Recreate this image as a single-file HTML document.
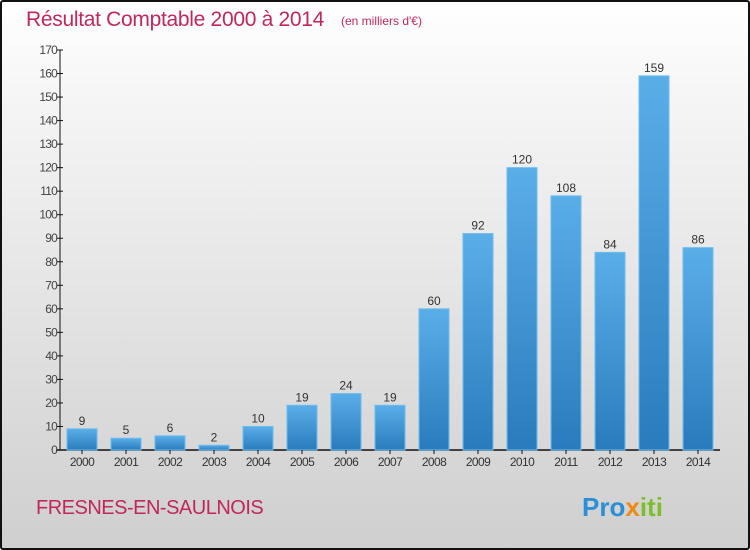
<!DOCTYPE html>
<html><head><meta charset="utf-8"><style>
html,body{margin:0;padding:0;}
body{width:750px;height:550px;overflow:hidden;font-family:"Liberation Sans",sans-serif;}
#frame{position:absolute;left:0;top:0;width:746px;height:546px;border:2px solid #111;border-radius:3px;background:linear-gradient(#ffffff,#f4f4f4 20%,#cfcfcf);}
</style></head><body>
<div id="frame"></div>
<svg id="chart" width="750" height="550" style="position:absolute;left:0;top:0">
<text x="26" y="26" font-size="21" fill="#c0285a" letter-spacing="-0.3">Résultat Comptable 2000 à 2014</text>
<text x="341" y="25" font-size="12" fill="#c0285a">(en milliers d'€)</text>
<text x="36" y="514" font-size="20" fill="#c0285a" letter-spacing="-0.5">FRESNES-EN-SAULNOIS</text>
<text x="582" y="516" font-size="26" font-weight="bold"><tspan fill="#2a8fd6">Pro</tspan><tspan fill="#f08a10">x</tspan><tspan fill="#7cbf2a">iti</tspan></text>
<g id="plot"></g>
</svg>
<script>
const categories=["2000","2001","2002","2003","2004","2005","2006","2007","2008","2009","2010","2011","2012","2013","2014"];
const values=[9,5,6,2,10,19,24,19,60,92,120,108,84,159,86];
const yTicks=[0,10,20,30,40,50,60,70,80,90,100,110,120,130,140,150,160,170];
const NS="http://www.w3.org/2000/svg";
const g=document.getElementById('plot');
const x0=60,y0=450,yMax=170,ph=400,step=44,bw=30,first=82;
const y=v=>y0-v/yMax*ph;
const xc=i=>first+i*step;
function mk(t,a){const e=document.createElementNS(NS,t);for(const k in a)e.setAttribute(k,a[k]);g.appendChild(e);return e;}
const defs=mk('defs',{});
defs.innerHTML='<linearGradient id="bg" x1="0" y1="0" x2="0" y2="1"><stop offset="0" stop-color="#5aaee8"/><stop offset="1" stop-color="#2a7bbd"/></linearGradient>';
let ax=mk('line',{x1:x0,y1:y(yMax),x2:x0,y2:y0,stroke:'#111','stroke-width':1});


let xa=mk('line',{x1:x0-4,y1:y0,x2:720,y2:y0,stroke:'#111','stroke-width':1.5});


yTicks.forEach(t=>{
 const tk=mk('line',{x1:x0-3,y1:y(t),x2:x0+3,y2:y(t),stroke:'#111'});
 
 
 const l=mk('text',{x:x0-3,y:y(t)+4,'text-anchor':'end','font-size':12,fill:'#444','letter-spacing':'-0.8'});
 l.textContent=t;
 
 
});
categories.forEach((c,i)=>{
 const v=values[i];
 const r=mk('rect',{x:xc(i)-bw/2,y:y(v),width:bw,height:y0-y(v),fill:'url(#bg)',stroke:'#6cbcf0','stroke-width':1});
 
 
 const tk=mk('line',{x1:xc(i),y1:y0,x2:xc(i),y2:y0+4,stroke:'#111'});
 
 
 const l=mk('text',{x:xc(i),y:y0+16,'text-anchor':'middle','font-size':12,fill:'#333','letter-spacing':'-0.6'});
 l.textContent=c;
 
 
 const vl=mk('text',{x:xc(i),y:y(v)-4,'text-anchor':'middle','font-size':12,fill:'#333'});
 vl.textContent=v;
 
 
});
</script>
</body></html>
